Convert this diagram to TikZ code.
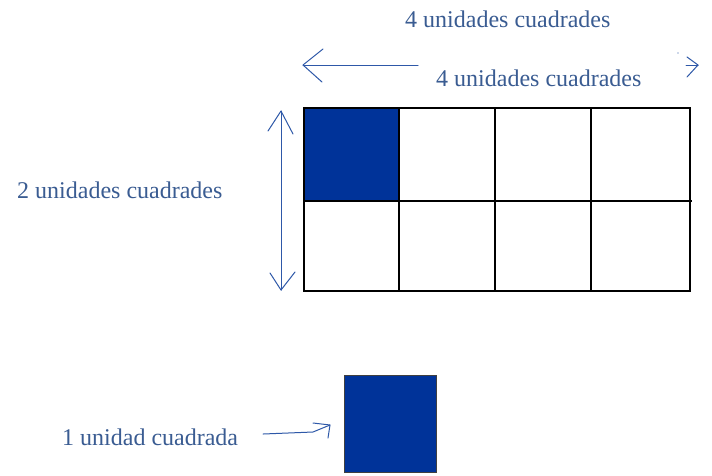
\documentclass[tikz,border=0pt]{standalone}
\usepackage{fontspec}
\setmainfont{Liberation Serif}
\definecolor{cellblue}{RGB}{0,51,153}
\definecolor{txtblue}{RGB}{58,92,146}
\definecolor{arrblue}{RGB}{46,88,168}
\begin{document}
\begin{tikzpicture}[x=1pt,y=-1pt,
  lbl/.style={text=txtblue,font=\fontsize{24}{28}\selectfont,inner sep=0pt,anchor=base west},
  gridline/.style={draw=black,line width=1.2pt},
  arr/.style={draw=arrblue,line width=1pt,line cap=round,line join=round}]
\useasboundingbox[fill=white] (0,0) rectangle (712,475);
% texts
\node[lbl] (t1) at (405,27) {4 unidades cuadrades};
\node[lbl] (t2) at (436,86) {4 unidades cuadrades};
\node[lbl] (t3) at (17,198) {2 unidades cuadrades};
\node[lbl] (t4) at (62,445) {1 unidad cuadrada};
% grid
\fill[cellblue] (304,108) rectangle (399,201);
\draw[gridline] (304,108) rectangle (690,291);
\draw[gridline] (304,201) -- (692,201);
\draw[gridline] (399,108) -- (399,291);
\draw[gridline] (495,108) -- (495,291);
\draw[gridline] (591,108) -- (591,291);
% small square
\node[draw=black!75,line width=1.2pt,fill=cellblue,minimum width=92pt,minimum height=97pt,inner sep=0pt,anchor=north west] (unit) at (344,375) {};
% top horizontal arrow
\coordinate (hl) at (303,65);
\coordinate (hr) at (418,65);
\draw[arr] (hr) -- (hl);
\draw[arr] (323,49) -- (hl) -- (322,82);
\coordinate (rt) at (698,65);
\draw[arr] (687,57) -- (rt) -- (687,77);
\draw[arr] (686,65) -- (rt);
\fill[arrblue] (678,53) circle (0.7);
% vertical arrow
\coordinate (vt) at (281,111);
\coordinate (vb) at (281,290);
\draw[arr] (vt) -- (vb);
\draw[arr] (268,131) -- (vt) -- (293,134);
\draw[arr] (270,273) -- (vb) -- (295,272);
% bottom arrow
\coordinate (ba) at (263,434);
\coordinate (bh) at (330,425);
\draw[arr] (ba) -- (313,432) -- (bh);
\draw[arr] (313,423) -- (bh) -- (328,438);
\end{tikzpicture}
\end{document}
